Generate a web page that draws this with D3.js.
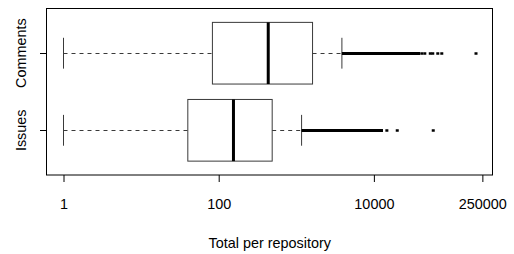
<!DOCTYPE html>
<html lang="en">
<head>
    <meta charset="UTF-8">
    <title>Total per repository</title>
    <script src="https://cdnjs.cloudflare.com/ajax/libs/d3/7.8.5/d3.min.js"></script>
    <style>
        body { margin: 0; background: #fff; }
        svg { display: block; font-family: "Liberation Sans", Arial, sans-serif; }
    </style>
</head>
<body>
<svg width="514" height="254"></svg>

<script>
    // box statistics per group (raw values, log axis)
    const groups = ["Issues", "Comments"];
    const lowWhisker = [1, 1];
    const lowerQuartile = [40, 83];
    const medians = [155, 435];
    const upperQuartile = [489, 1620];
    const highWhisker = [1170, 3870];
    // outliers so dense they merge into a solid run, from the whisker to this value
    const outlierRunEnd = [13100, 39300];
    const issuesOutliers = [14700, 20000, 58200];
    const commentsOutliers = [41400, 45300, 53300, 57400, 66600, 75000, 207000];
    const xTickValues = [1, 100, 10000, 250000];

    const outliers = [issuesOutliers, commentsOutliers];

    const svg = d3.select("svg");
    const plotLeft = 47, plotRight = 492.5, plotTop = 8.5, plotBottom = 175;

    // R-style range: data extent in log space padded by 4%
    const allValues = lowWhisker.concat(outliers.flat());
    const logLo = Math.log10(d3.min(allValues)), logHi = Math.log10(d3.max(allValues));
    const pad = (logHi - logLo) * 0.04;
    const x = d3.scaleLog()
        .domain([Math.pow(10, logLo - pad), Math.pow(10, logHi + pad)])
        .range([plotLeft, plotRight]);
    const y = d3.scaleLinear().domain([0.42, 2.58]).range([plotBottom, plotTop]);

    const halfBox = 0.4, halfStaple = 0.2;
    const boxColor = "#3a3a3a";

    groups.forEach((name, i) => {
        const pos = i + 1;
        const cy = Math.round(y(pos)) + 0.5;
        const g = svg.append("g").attr("class", "box");

        // dashed whiskers
        [[lowWhisker[i], lowerQuartile[i]], [upperQuartile[i], highWhisker[i]]].forEach(([a, b]) => {
            g.append("line")
                .attr("x1", x(a)).attr("x2", x(b))
                .attr("y1", cy).attr("y2", cy)
                .attr("stroke", boxColor)
                .attr("stroke-dasharray", "4,4");
        });

        // staples
        [lowWhisker[i], highWhisker[i]].forEach(v => {
            g.append("line")
                .attr("x1", x(v)).attr("x2", x(v))
                .attr("y1", y(pos - halfStaple)).attr("y2", y(pos + halfStaple))
                .attr("stroke", boxColor);
        });

        // box
        g.append("rect")
            .attr("x", x(lowerQuartile[i]))
            .attr("y", y(pos + halfBox))
            .attr("width", x(upperQuartile[i]) - x(lowerQuartile[i]))
            .attr("height", y(pos - halfBox) - y(pos + halfBox))
            .attr("fill", "none")
            .attr("stroke", boxColor);

        // median
        g.append("line")
            .attr("x1", x(medians[i])).attr("x2", x(medians[i]))
            .attr("y1", y(pos + halfBox)).attr("y2", y(pos - halfBox))
            .attr("stroke", "#000")
            .attr("stroke-width", 3);

        // dense outlier run
        g.append("rect")
            .attr("x", x(highWhisker[i]))
            .attr("y", cy - 1.5)
            .attr("width", x(outlierRunEnd[i]) - x(highWhisker[i]))
            .attr("height", 3)
            .attr("fill", "#000");

        // separate outliers
        g.selectAll("rect.outlier")
            .data(outliers[i])
            .enter()
            .append("rect")
            .attr("class", "outlier")
            .attr("x", d => x(d) - 1.5)
            .attr("y", cy - 1.25)
            .attr("width", 3)
            .attr("height", 2.5)
            .attr("fill", "#000");
    });

    // plot frame
    svg.append("rect")
        .attr("x", plotLeft - 0.5).attr("y", plotTop)
        .attr("width", plotRight - plotLeft + 0.5).attr("height", plotBottom - plotTop)
        .attr("fill", "none")
        .attr("stroke", "#000");

    // bottom axis
    const xAxis = svg.append("g")
        .attr("transform", `translate(0,${plotBottom})`)
        .call(d3.axisBottom(x).tickValues(xTickValues).tickFormat(d3.format("d")).tickSizeOuter(0).tickSize(7));
    xAxis.select(".domain").remove();
    xAxis.selectAll(".tick line").attr("stroke", "#000");
    xAxis.selectAll(".tick text")
        .attr("y", 33.5)
        .attr("dy", null)
        .attr("font-size", 14.4)
        .attr("fill", "#000");

    // left axis ticks and group labels
    groups.forEach((name, i) => {
        const cy = Math.round(y(i + 1)) + 0.5;
        svg.append("line")
            .attr("x1", plotLeft - 7).attr("x2", plotLeft)
            .attr("y1", cy).attr("y2", cy)
            .attr("stroke", "#000");
        svg.append("text")
            .attr("transform", `translate(25.5,${y(i + 1)}) rotate(-90)`)
            .attr("text-anchor", "middle")
            .attr("font-size", 14.4)
            .text(name);
    });

    svg.append("text")
        .attr("x", (plotLeft + plotRight) / 2)
        .attr("y", 247.5)
        .attr("text-anchor", "middle")
        .attr("font-size", 14.4)
        .text("Total per repository");
</script>
</body>
</html>
